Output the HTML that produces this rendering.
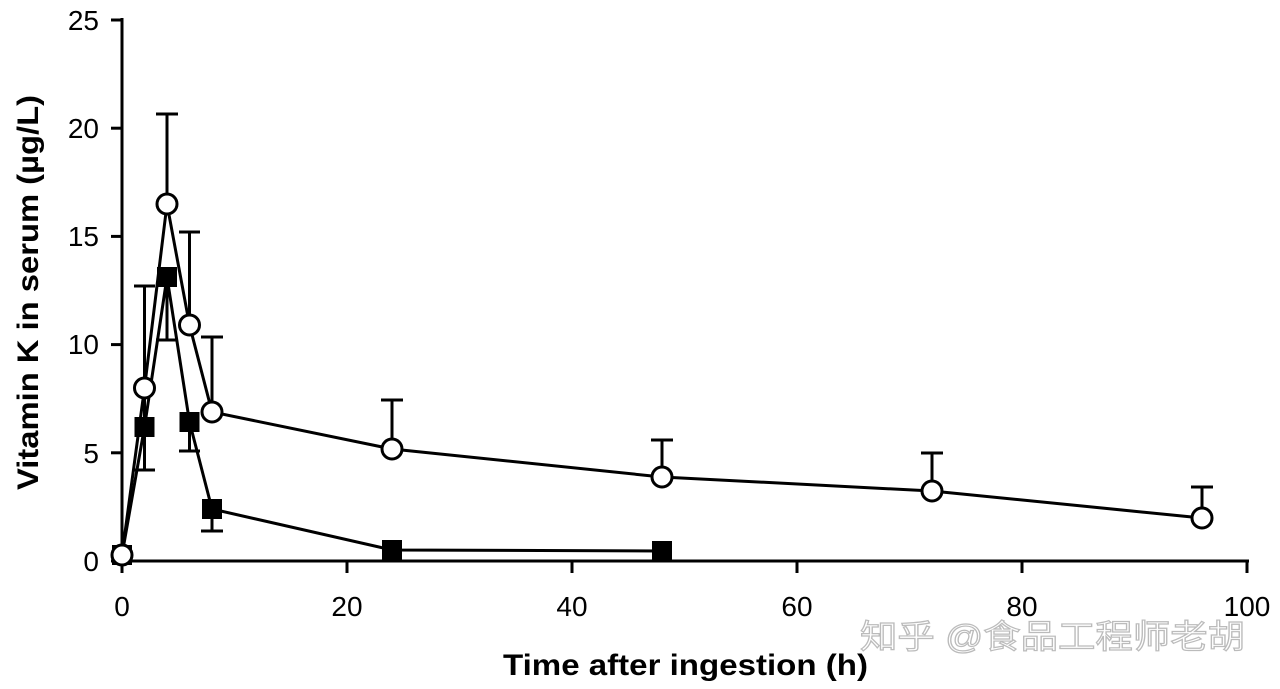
<!DOCTYPE html>
<html><head><meta charset="utf-8"><style>
html,body{margin:0;padding:0;background:#fff;}
svg{display:block;}
text{font-family:"Liberation Sans",sans-serif;fill:#000;}
</style></head><body>
<svg width="1280" height="689" xmlns="http://www.w3.org/2000/svg">
<g stroke="#000" stroke-width="3" fill="none">
<line x1="122" y1="18" x2="122" y2="563"/>
<line x1="120" y1="561" x2="1249" y2="561"/>
<line x1="111" y1="20" x2="122" y2="20"/>
<line x1="111" y1="128.2" x2="122" y2="128.2"/>
<line x1="111" y1="236.4" x2="122" y2="236.4"/>
<line x1="111" y1="344.6" x2="122" y2="344.6"/>
<line x1="111" y1="452.8" x2="122" y2="452.8"/>
<line x1="111" y1="561" x2="122" y2="561"/>
<line x1="122" y1="561" x2="122" y2="573"/>
<line x1="347" y1="561" x2="347" y2="573"/>
<line x1="572" y1="561" x2="572" y2="573"/>
<line x1="797" y1="561" x2="797" y2="573"/>
<line x1="1022" y1="561" x2="1022" y2="573"/>
<line x1="1247" y1="561" x2="1247" y2="573"/>
</g>
<g font-size="28" text-anchor="end">
<text x="99" y="30">25</text><text x="99" y="138">20</text><text x="99" y="246">15</text>
<text x="99" y="354">10</text><text x="99" y="463">5</text><text x="99" y="571">0</text>
</g>
<g font-size="28" text-anchor="middle">
<text x="122" y="616">0</text><text x="347" y="616">20</text><text x="572" y="616">40</text>
<text x="797" y="616">60</text><text x="1022" y="616">80</text><text x="1247" y="616">100</text>
</g>
<text x="503" y="675" font-size="30" font-weight="bold" textLength="365" lengthAdjust="spacingAndGlyphs">Time after ingestion (h)</text>
<text transform="translate(38,490) rotate(-90)" font-size="30" font-weight="bold" textLength="395" lengthAdjust="spacingAndGlyphs">Vitamin K in serum (µg/L)</text>
<text x="860" y="648" font-size="33" textLength="385" lengthAdjust="spacingAndGlyphs" style="font-family:'Liberation Sans','Noto Sans CJK SC',sans-serif;fill:#fff;stroke:#bbb;stroke-width:1.2">知乎 @食品工程师老胡</text>
<g stroke="#000" stroke-width="3" fill="none">
<path d="M144.5 388 V286 M134 286 H155 M167 204 V114 M156 114 H178 M189.5 325 V232 M179 232 H200 M212 412 V337 M201 337 H223 M392 449 V400 M381 400 H403 M662 477 V440 M651 440 H673 M932 491 V453 M921 453 H943 M1202 518 V487 M1191 487 H1213"/>
<path d="M144.5 427 V470 M134 470 H155 M167 277 V340 M156 340 H178 M189.5 422 V451 M179 451 H200 M212 509 V531 M201 531 H223 M144.5 427 V286"/>
<polyline points="122,555 144.5,427 167,277 189.5,422 212,509 392,550 662,551"/>
<polyline points="122,555 144.5,388 167,204 189.5,325 212,412 392,449 662,477 932,491 1202,518"/>
</g>
<g fill="#000">
<rect x="112" y="545" width="20" height="20"/><rect x="134.5" y="417" width="20" height="20"/>
<rect x="157" y="267" width="20" height="20"/><rect x="179.5" y="412" width="20" height="20"/>
<rect x="202" y="499" width="20" height="20"/><rect x="382" y="540" width="20" height="20"/>
<rect x="652" y="541" width="20" height="20"/>
</g>
<g fill="#fff" stroke="#000" stroke-width="3">
<circle cx="122" cy="555" r="10"/><circle cx="144.5" cy="388" r="10"/><circle cx="167" cy="204" r="10"/>
<circle cx="189.5" cy="325" r="10"/><circle cx="212" cy="412" r="10"/><circle cx="392" cy="449" r="10"/>
<circle cx="662" cy="477" r="10"/><circle cx="932" cy="491" r="10"/><circle cx="1202" cy="518" r="10"/>
</g>
</svg>
</body></html>
